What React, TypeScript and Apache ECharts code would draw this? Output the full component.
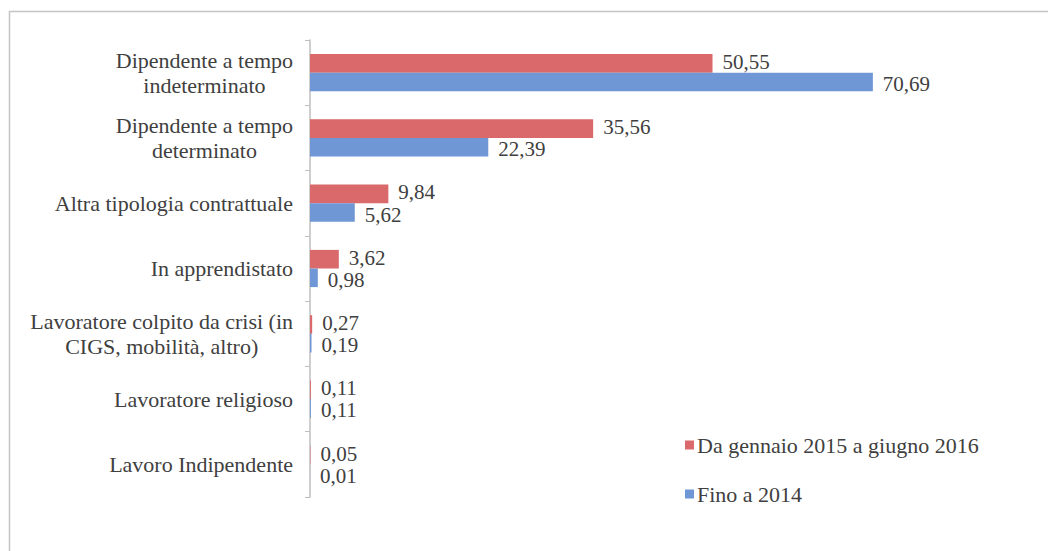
import React, { useEffect, useRef } from "react";
import * as echarts from "echarts";

const categories = [
  "Dipendente a tempo\nindeterminato",
  "Dipendente a tempo\ndeterminato",
  "Altra tipologia contrattuale",
  "In apprendistato",
  "Lavoratore colpito da crisi (in\nCIGS, mobilità, altro)",
  "Lavoratore religioso",
  "Lavoro Indipendente",
];
const seriesNames = ["Da gennaio 2015 a giugno 2016", "Fino a 2014"];
const recent = [50.55, 35.56, 9.84, 3.62, 0.27, 0.11, 0.05];
const until2014 = [70.69, 22.39, 5.62, 0.98, 0.19, 0.11, 0.01];

const FONT = "Liberation Serif";
const TEXT = "#404040";
const FS = 22;

export default function App() {
  const ref = useRef<HTMLDivElement>(null);
  useEffect(() => {
    if (!ref.current) return;
    const chart = echarts.init(ref.current, null, { renderer: "svg" });
    const fmt = (p: any) => Number(p.value).toFixed(2).replace(".", ",");
    const valueLabel = (dy: number) => ({
      show: true,
      position: "right",
      distance: 10,
      offset: [0, dy],
      fontFamily: FONT,
      fontSize: 21,
      lineHeight: 20,
      color: TEXT,
      formatter: fmt,
    });
    chart.setOption({
      animation: false,
      backgroundColor: "#ffffff",
      textStyle: { fontFamily: FONT },
      graphic: [
        {
          type: "rect",
          shape: { x: 9.5, y: 11.5, width: 1100, height: 600 },
          style: { fill: "none", stroke: "#c4c4c4", lineWidth: 1.5 },
          silent: true,
        },
      ],
      grid: { left: 310, right: 101, top: 40, bottom: 54, containLabel: false },
      legend: {
        orient: "vertical",
        left: 680,
        top: 429,
        itemWidth: 9,
        itemHeight: 9,
        itemGap: 27,
        icon: "rect",
        textStyle: { fontFamily: FONT, fontSize: FS, color: TEXT, padding: [0, 0, 0, -2] },
        data: seriesNames,
      },
      xAxis: {
        type: "value",
        min: 0,
        max: 80,
        show: false,
        splitLine: { show: false },
      },
      yAxis: {
        type: "category",
        inverse: true,
        data: categories,
        axisLine: { show: true, lineStyle: { color: "#bfbfbf", width: 1.5 } },
        axisTick: { show: true, length: 5, lineStyle: { color: "#bfbfbf" } },
        axisLabel: {
          margin: 17,
          fontFamily: FONT,
          fontSize: FS,
          color: TEXT,
          lineHeight: 25,
          formatter: (v: string) =>
            v.split("\n").map((l) => `{c|${l}}`).join("\n"),
          rich: {
            c: { align: "center", fontFamily: FONT, fontSize: FS, color: TEXT, lineHeight: 25 },
          },
        },
      },
      series: [
        {
          name: seriesNames[0],
          type: "bar",
          data: recent,
          barGap: "0%",
          barCategoryGap: "43%",
          itemStyle: { color: "#d9696a" },
          label: valueLabel(-1.5),
        },
        {
          name: seriesNames[1],
          type: "bar",
          data: until2014,
          barGap: "0%",
          barCategoryGap: "43%",
          itemStyle: { color: "#6f97d5" },
          label: valueLabel(2),
        },
      ],
    });
    return () => chart.dispose();
  }, []);
  return (
    <div
      ref={ref}
      style={{ position: "fixed", left: 0, top: 0, width: 1048, height: 551 }}
    />
  );
}
